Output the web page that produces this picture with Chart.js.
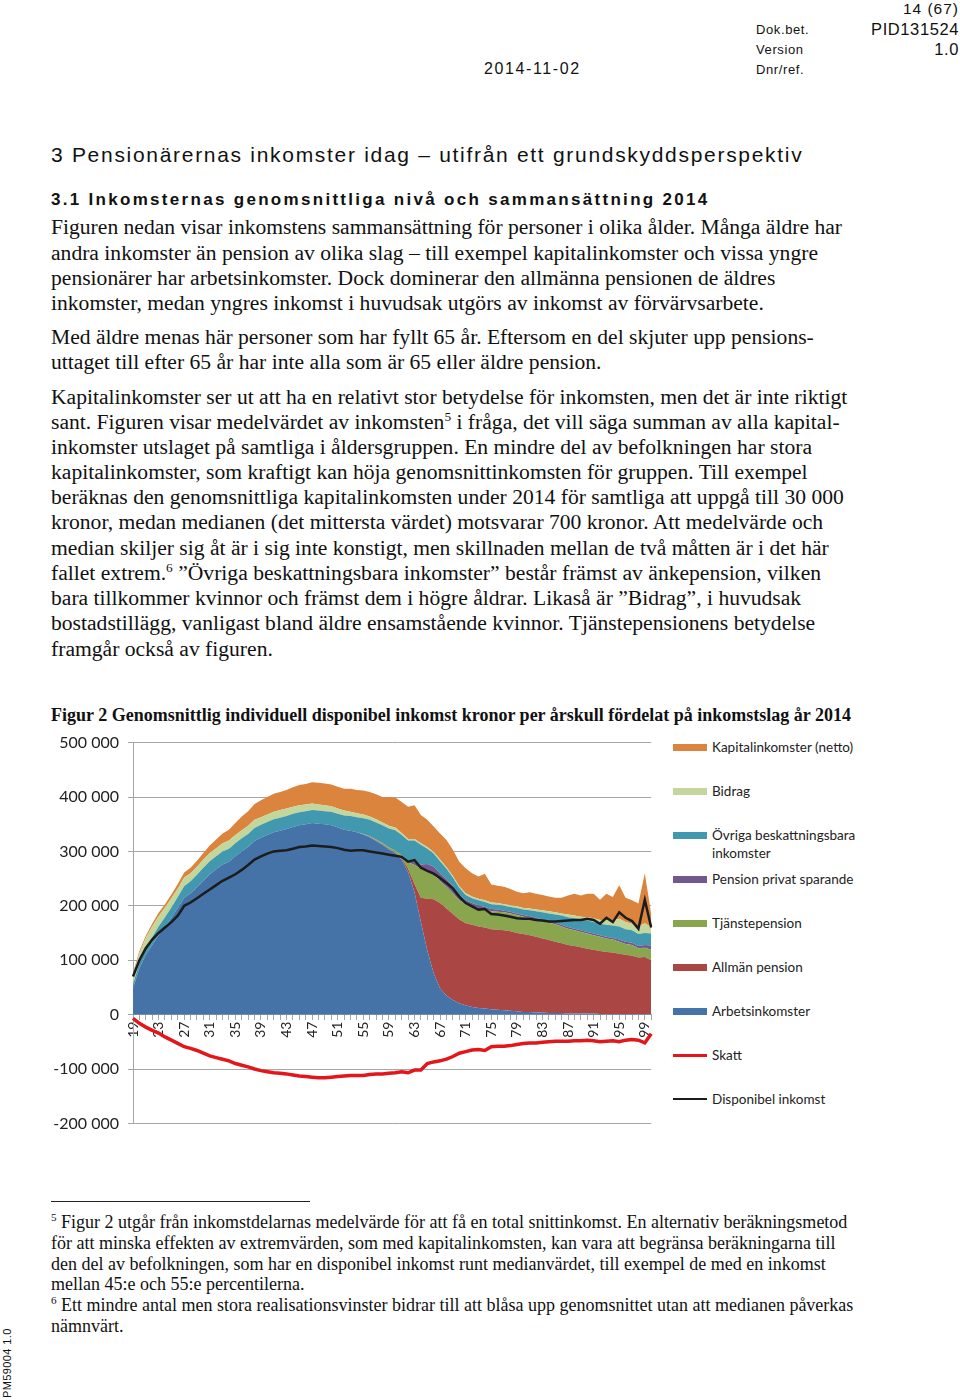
<!DOCTYPE html>
<html>
<head>
<meta charset="utf-8">
<script src="https://cdn.jsdelivr.net/npm/chart.js@4.4.1/dist/chart.umd.min.js"></script>
<style>
body { margin: 0; background: #fff; }
#page { position: relative; width: 960px; height: 1400px; overflow: hidden; color: #111; }
.t { position: absolute; white-space: nowrap; }
.sans { font-family: "Liberation Sans", Arial, sans-serif; }
.serif { font-family: "Liberation Serif", "Times New Roman", serif; }
.body { font-size: 21.6px; line-height: 25px; }
.fn { font-size: 18px; line-height: 21px; }
sup { font-size: 0.62em; line-height: 0; vertical-align: 0.6em; }
#chartBox { position: absolute; left: 50px; top: 724px; width: 620px; height: 418px; }
.lg { position: absolute; font-family: Lato, "Open Sans", sans-serif; font-size: 13.5px; line-height: 18px; color: #222; }
.sw { position: absolute; }
</style>
</head>
<body>
<div id="page">
  <div class="t sans" style="right:1px;top:0px;font-size:15.5px;line-height:18px;letter-spacing:1px">14 (67)</div>
  <div class="t sans" style="right:1px;top:20px;font-size:16.5px;line-height:18px;letter-spacing:0.6px">PID131524</div>
  <div class="t sans" style="right:1px;top:40px;font-size:16.5px;line-height:18px;letter-spacing:0.6px">1.0</div>
  <div class="t sans" style="left:756px;top:22px;font-size:13px;line-height:16px;letter-spacing:0.6px">Dok.bet.</div>
  <div class="t sans" style="left:756px;top:42px;font-size:13px;line-height:16px;letter-spacing:0.6px">Version</div>
  <div class="t sans" style="left:756px;top:62px;font-size:13px;line-height:16px;letter-spacing:0.6px">Dnr/ref.</div>
  <div class="t sans" style="left:484px;top:60px;font-size:16px;line-height:18px;letter-spacing:1.6px">2014-11-02</div>

  <div class="t sans" style="left:51px;top:143px;font-size:21px;line-height:24px;letter-spacing:1.7px">3 Pensionärernas inkomster idag – utifrån ett grundskyddsperspektiv</div>
  <div class="t sans" style="left:51px;top:190px;font-size:17px;line-height:20px;letter-spacing:2.3px;font-weight:bold">3.1 Inkomsternas genomsnittliga nivå och sammansättning 2014</div>

  <div id="bodyText"></div>

  <div class="t serif" style="left:51px;top:704px;font-size:18px;line-height:22px;font-weight:bold">Figur 2 Genomsnittlig individuell disponibel inkomst kronor per årskull fördelat på inkomstslag år 2014</div>

  <div id="chartBox"><canvas id="incomeChart" width="620" height="418"></canvas></div>
  <div id="legend"></div>

  <div style="position:absolute;left:51px;top:1201px;width:259px;height:1px;background:#222"></div>
  <div id="footText"></div>

  <div class="t sans" style="left:1px;top:1398px;font-size:11px;line-height:12px;letter-spacing:0.4px;transform:rotate(-90deg);transform-origin:left top">PM59004 1.0</div>
</div>

<script>
// ---------------- DATA (tkr per person, ages 19-100) ----------------

const ages = ["19","20","21","22","23","24","25","26","27","28",
    "29","30","31","32","33","34","35","36","37","38",
    "39","40","41","42","43","44","45","46","47","48",
    "49","50","51","52","53","54","55","56","57","58",
    "59","60","61","62","63","64","65","66","67","68",
    "69","70","71","72","73","74","75","76","77","78",
    "79","80","81","82","83","84","85","86","87","88",
    "89","90","91","92","93","94","95","96","97","98",
    "99","100"];

const arbetsinkomster = [48, 85, 110, 128, 146, 161, 178, 196, 215, 223,
    234, 246, 258, 267, 276, 281, 291, 300, 308, 319,
    325, 330, 335, 338, 341, 345, 348, 350, 352, 351,
    350, 348, 344, 340, 338, 335, 331, 326, 319, 312,
    304, 297, 285, 262, 225, 170, 118, 76, 48, 35,
    27, 21, 17, 14, 12, 11, 10, 9, 8, 7,
    6, 5, 5, 4, 4, 3, 3, 3, 2, 2,
    2, 2, 2, 1, 1, 1, 1, 1, 1, 1,
    1, 1];

const allmanPension = [0, 0, 0, 0, 0, 0, 0, 0, 0, 0,
    0, 0, 0, 0, 0, 0, 0, 0, 0, 0,
    0, 0, 0, 0, 0, 0, 0, 0, 0, 0,
    0, 0, 0, 0, 0, 0, 0, 1, 1, 1,
    1, 1, 3, 6, 15, 45, 95, 136, 157, 160,
    158, 154, 151, 151, 150, 149, 147, 147, 147, 146,
    144, 143, 141, 139, 136, 134, 131, 128, 126, 124,
    122, 119, 117, 116, 114, 113, 111, 109, 107, 104,
    105, 99];

const tjanstepension = [0, 0, 0, 0, 0, 0, 0, 0, 0, 0,
    0, 0, 0, 0, 0, 0, 0, 0, 0, 0,
    0, 0, 0, 0, 0, 0, 0, 0, 0, 0,
    0, 0, 0, 0, 0, 0, 1, 1, 2, 2,
    2, 3, 4, 12, 35, 53, 49, 46, 40, 40,
    38, 35, 35, 34, 34, 34, 33, 33, 33, 33,
    33, 32, 32, 32, 32, 32, 32, 31, 30, 29,
    28, 28, 27, 26, 25, 24, 22, 20, 20, 17,
    17, 19];

const privatPension = [0, 0, 0, 0, 0, 0, 0, 0, 0, 0,
    0, 0, 0, 0, 0, 0, 0, 0, 0, 0,
    0, 0, 0, 0, 0, 0, 0, 0, 0, 0,
    0, 0, 0, 0, 0, 0, 0, 0, 0, 0,
    0, 0, 1, 2, 5, 8, 15, 14, 15, 14,
    13, 10, 7, 6, 5, 4, 4, 4, 3, 3,
    3, 3, 3, 3, 3, 3, 3, 3, 3, 3,
    3, 3, 3, 3, 3, 3, 4, 4, 4, 4,
    5, 8];

const ovriga = [8, 10, 12, 14, 16, 18, 19, 20, 21, 22,
    23, 24, 24, 24, 24, 24, 24, 24, 24, 24,
    24, 24, 24, 24, 24, 24, 24, 24, 24, 24,
    24, 25, 25, 26, 27, 28, 29, 30, 31, 33,
    35, 38, 37, 38, 40, 36, 28, 24, 22, 19,
    16, 13, 10, 9, 9, 9, 9, 9, 9, 9,
    10, 10, 11, 12, 13, 14, 15, 17, 18, 19,
    20, 21, 21, 21, 22, 23, 24, 23, 23, 22,
    22, 22];

const bidrag = [17, 18, 19, 20, 19, 18, 17, 16, 16, 15,
    15, 15, 15, 15, 15, 15, 15, 15, 15, 15,
    14, 14, 14, 14, 14, 13, 13, 12, 12, 11,
    11, 10, 10, 9, 8, 7, 7, 6, 6, 5,
    5, 5, 4, 3, 3, 3, 3, 3, 3, 3,
    3, 3, 3, 3, 3, 3, 3, 3, 3, 3,
    3, 3, 3, 3, 4, 4, 4, 4, 5, 5,
    5, 6, 7, 7, 9, 10, 14, 13, 12, 14,
    18, 12];

const kapital = [4, 4, 4, 5, 6, 6, 7, 8, 9, 10,
    11, 12, 14, 16, 18, 20, 22, 25, 27, 29,
    31, 32, 33, 33, 34, 36, 37, 38, 39, 40,
    40, 40, 40, 40, 42, 43, 44, 45, 46, 47,
    53, 55, 57, 59, 62, 52, 50, 47, 48, 50,
    48, 45, 46, 43, 41, 49, 33, 32, 32, 30,
    27, 27, 30, 29, 28, 27, 27, 29, 35, 40,
    39, 43, 45, 37, 48, 42, 62, 45, 43, 42,
    92, 24];

const skatt = [-7, -16, -23, -29, -34, -41, -47, -53, -59, -62,
    -66, -71, -76, -79, -82, -85, -90, -93, -96, -100,
    -103, -105, -107, -108, -109, -111, -113, -114, -115, -116,
    -116, -115, -114, -113, -112, -112, -112, -110, -109, -109,
    -108, -107, -105, -107, -102, -102, -90, -87, -85, -82,
    -77, -71, -68, -65, -64, -66, -59, -58, -58, -57,
    -55, -53, -52, -52, -51, -50, -49, -49, -49, -48,
    -48, -47, -48, -50, -49, -48, -50, -47, -46, -47,
    -52, -35];

const disponibel = [70, 100, 122, 138, 150, 160, 170, 182, 200, 206,
    214, 222, 230, 238, 246, 252, 258, 266, 275, 285,
    291, 296, 300, 301, 302, 305, 308, 309, 311, 310,
    309, 308, 306, 303, 301, 302, 302, 300, 298, 296,
    294, 292, 290, 281, 284, 270, 264, 259, 251, 242,
    232, 217, 205, 199, 193, 194, 185, 184, 182, 180,
    177, 176, 176, 174, 173, 171, 171, 172, 173, 174,
    174, 176, 174, 167, 178, 170, 188, 178, 172, 158,
    211, 160];

const yTicks = [-200, -100, 0, 100, 200, 300, 400, 500];


// ---------------- PAGE TEXT ----------------

const bodyLines = [
    [227, "Figuren nedan visar inkomstens sammansättning för personer i olika ålder. Många äldre har"],
    [253, "andra inkomster än pension av olika slag – till exempel kapitalinkomster och vissa yngre"],
    [278, "pensionärer har arbetsinkomster. Dock dominerar den allmänna pensionen de äldres"],
    [303, "inkomster, medan yngres inkomst i huvudsak utgörs av inkomst av förvärvsarbete."],
    [337, "Med äldre menas här personer som har fyllt 65 år. Eftersom en del skjuter upp pensions-"],
    [362, "uttaget till efter 65 år har inte alla som är 65 eller äldre pension."],
    [397, "Kapitalinkomster ser ut att ha en relativt stor betydelse för inkomsten, men det är inte riktigt"],
    [422, "sant. Figuren visar medelvärdet av inkomsten<sup>5</sup> i fråga, det vill säga summan av alla kapital-"],
    [447, "inkomster utslaget på samtliga i åldersgruppen. En mindre del av befolkningen har stora"],
    [472, "kapitalinkomster, som kraftigt kan höja genomsnittinkomsten för gruppen. Till exempel"],
    [497, "beräknas den genomsnittliga kapitalinkomsten under 2014 för samtliga att uppgå till 30 000"],
    [522, "kronor, medan medianen (det mittersta värdet) motsvarar 700 kronor. Att medelvärde och"],
    [548, "median skiljer sig åt är i sig inte konstigt, men skillnaden mellan de två måtten är i det här"],
    [573, "fallet extrem.<sup>6</sup> ”Övriga beskattningsbara inkomster” består främst av änkepension, vilken"],
    [598, "bara tillkommer kvinnor och främst dem i högre åldrar. Likaså är ”Bidrag”, i huvudsak"],
    [623, "bostadstillägg, vanligast bland äldre ensamstående kvinnor. Tjänstepensionens betydelse"],
    [649, "framgår också av figuren."]
];

const footLines = [
    [1222, "<sup>5</sup> Figur 2 utgår från inkomstdelarnas medelvärde för att få en total snittinkomst. En alternativ beräkningsmetod"],
    [1243, "för att minska effekten av extremvärden, som med kapitalinkomsten, kan vara att begränsa beräkningarna till"],
    [1264, "den del av befolkningen, som har en disponibel inkomst runt medianvärdet, till exempel de med en inkomst"],
    [1284, "mellan 45:e och 55:e percentilerna."],
    [1305, "<sup>6</sup> Ett mindre antal men stora realisationsvinster bidrar till att blåsa upp genomsnittet utan att medianen påverkas"],
    [1326, "nämnvärt."]
];

function placeLines(targetId, lines, cls, lineHeight) {
    const box = document.getElementById(targetId);
    lines.forEach(([cy, html]) => {
        const d = document.createElement("div");
        d.className = "t serif " + cls;
        d.style.left = "51px";
        d.style.top = (cy - lineHeight / 2) + "px";
        d.innerHTML = html;
        box.appendChild(d);
    });
}

placeLines("bodyText", bodyLines, "body", 25);
placeLines("footText", footLines, "fn", 21);


// ---------------- CHART ----------------

function fmtTick(v) {
    if (v === 0) return "0";
    return (v < 0 ? "-" : "") + Math.abs(v) + " 000";
}

function area(label, data, color, fill) {
    return {
        label: label,
        data: data,
        backgroundColor: color,
        borderColor: "rgba(0,0,0,0)",
        borderWidth: 0,
        pointRadius: 0,
        tension: 0,
        fill: fill,
        stack: "inkomst",
        order: 1
    };
}

const incomeChart = new Chart(document.getElementById("incomeChart"), {
    type: "line",
    data: {
        labels: ages,
        datasets: [
            area("Arbetsinkomster", arbetsinkomster, "#4572A7", "origin"),
            area("Allmän pension", allmanPension, "#AA4643", "-1"),
            area("Tjänstepension", tjanstepension, "#89A54E", "-1"),
            area("Pension privat sparande", privatPension, "#71588F", "-1"),
            area("Övriga beskattningsbara inkomster", ovriga, "#4198AF", "-1"),
            area("Bidrag", bidrag, "#C3D69B", "-1"),
            area("Kapitalinkomster (netto)", kapital, "#DB843D", "-1"),
            {
                label: "Skatt",
                data: skatt,
                borderColor: "#E3161B",
                borderWidth: 3.5,
                pointRadius: 0,
                tension: 0,
                fill: false,
                stack: "skatt",
                order: 0
            },
            {
                label: "Disponibel inkomst",
                data: disponibel,
                borderColor: "#1c1c1c",
                borderWidth: 2.5,
                pointRadius: 0,
                tension: 0,
                fill: false,
                stack: "disp",
                order: 0
            }
        ]
    },
    options: {
        responsive: false,
        animation: false,
        layout: { padding: { top: 12, right: 5, bottom: 7, left: 0 } },
        plugins: {
            legend: { display: false },
            tooltip: { enabled: false }
        },
        scales: {
            x: {
                position: { y: 0 },
                ticks: {
                    autoSkip: false,
                    minRotation: 90,
                    maxRotation: 90,
                    padding: 2,
                    color: "#222",
                    font: { family: "Lato", size: 14 },
                    callback: (val, i) => (i % 4 === 0 ? ages[i] : "")
                },
                grid: { drawOnChartArea: false, tickLength: 5, color: "#a6a6a6" },
                border: { color: "#a6a6a6" }
            },
            y: {
                stacked: true,
                min: yTicks[0],
                max: yTicks[yTicks.length - 1],
                afterBuildTicks: (scale) => {
                    scale.ticks = yTicks.map(v => ({ value: v }));
                },
                afterFit: (scale) => { scale.width = 83; },
                ticks: {
                    padding: 9,
                    color: "#222",
                    font: { family: "Lato", size: 16 },
                    callback: (v) => fmtTick(v)
                },
                grid: { color: "#a6a6a6", tickLength: 5 },
                border: { color: "#a6a6a6" }
            }
        }
    }
});


// ---------------- LEGEND ----------------

const legendBox = document.getElementById("legend");
const legendOrder = [6, 5, 4, 3, 2, 1, 0, 7, 8];

legendOrder.forEach((idx, i) => {
    const ds = incomeChart.data.datasets[idx];
    const cy = 747 + i * 44;
    const isLine = ds.fill === false;

    const sw = document.createElement("div");
    sw.className = "sw";
    sw.style.left = "673px";
    sw.style.width = "34px";
    const h = isLine ? (ds.label === "Skatt" ? 3 : 2) : 7;
    sw.style.height = h + "px";
    sw.style.top = (cy - h / 2) + "px";
    sw.style.background = isLine ? ds.borderColor : ds.backgroundColor;
    legendBox.appendChild(sw);

    const tx = document.createElement("div");
    tx.className = "lg";
    tx.style.left = "712px";
    tx.style.top = (cy - 9) + "px";
    tx.style.width = "150px";
    tx.textContent = ds.label;
    legendBox.appendChild(tx);
});
</script>
</body>
</html>
